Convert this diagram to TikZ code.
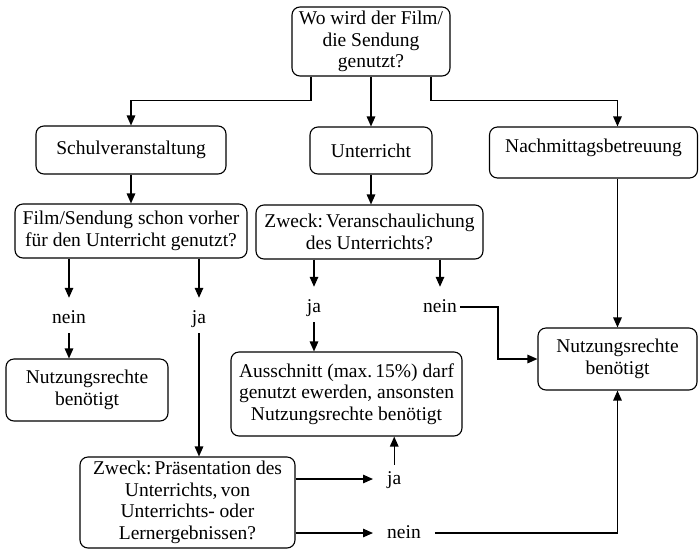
\documentclass[tikz,border=0pt]{standalone}
\usepackage{fontspec}
\setmainfont{Liberation Serif}
\usetikzlibrary{arrows.meta}

\tikzset{
	box/.style={draw, line width=1.1pt, rounded corners=8pt, align=center, inner sep=0pt},
	lbl/.style={anchor=base, inner xsep=3pt, inner ysep=0pt, text height=25pt, text depth=10pt},
	hlbl/.style={anchor=base west, inner xsep=14pt, inner ysep=0pt, text height=19pt, text depth=9pt},
	arr/.style={line width=1.4pt, -{Triangle[length=10pt,width=8.5pt]}}
}

\begin{document}
\frenchspacing
\begin{tikzpicture}[x=1pt, y=-1pt, font=\fontsize{19.5}{21.5}\selectfont]
	\useasboundingbox (0,0) rectangle (699,550);
	
	\node[box, minimum width=158pt, minimum height=69pt] (frage) at (371,41.5) {Wo wird der Film/\\die Sendung\\genutzt?};
	
	\node[box, minimum width=190pt, minimum height=48pt] (schul) at (131,150) {Schulveranstaltung};
	
	\node[box, minimum width=122pt, minimum height=47pt] (unter) at (371,150.5) {Unterricht};
	
	\node[box, minimum width=208pt, minimum height=51pt, text height=13pt, text depth=14pt] (nachm) at (593.5,152.5) {Nachmittagsbetreuung};
	
	\node[box, minimum width=232pt, minimum height=54pt] (film) at (131,231) {Film/Sendung schon vorher\\für den Unterricht genutzt?};
	
	\node[box, minimum width=227pt, minimum height=54pt] (vera) at (369.5,232) {Zweck:\,Veranschaulichung\\des Unterrichts?};
	
	\node[box, minimum width=162pt, minimum height=62pt] (nutzL) at (87,390) {Nutzungsrechte\\benötigt};
	
	\node[box, minimum width=231pt, minimum height=84pt] (aus) at (346.5,394) {Ausschnitt (max.\,15\%) darf\\genutzt ewerden, ansonsten\\Nutzungsrechte benötigt};
	
	\node[box, minimum width=159pt, minimum height=62pt] (nutzR) at (617.5,359) {Nutzungsrechte\\benötigt};
	
	\node[box, minimum width=215pt, minimum height=91pt] (praes) at (187.5,502.5) {Zweck:\,Präsentation des\\Unterrichts,\,von\\Unterrichts- oder\\Lernergebnissen?};
	
	% ja / nein
	\node[lbl] (neinL) at (69,323) {nein};
	\node[lbl] (jaL) at (199,323) {ja};
	\node[lbl] (jaM) at (314,312) {ja};
	\node[lbl] (neinM) at (440,312) {nein};
	\node[hlbl] (jaB) at (373,484) {ja};
	\node[hlbl] (neinB) at (373,538) {nein};
	
	\draw[arr] ([xshift=-60pt]frage.south) -- ++(0,24) -| (schul.north);
	\draw[arr] (frage.south) -- (frage.south |- unter.north);
	\draw[arr] ([xshift=60pt]frage.south) -- ++(0,24) -| (nutzR.north |- nachm.north);
	
	\draw[arr] (schul.south) -- (film.north);
	\draw[arr] (unter.south) -- (unter.south |- vera.north);
	
	\draw[arr] (film.south -| neinL.north) -- (neinL.north);
	\draw[arr] (neinL.south) -- (neinL.south |- nutzL.north);
	\draw[arr] (film.south -| jaL.north) -- (jaL.north);
	\draw[arr] (jaL.south) -- (jaL.south |- praes.north);
	
	\draw[arr] (vera.south -| jaM.north) -- (jaM.north);
	\draw[arr] (jaM.south) -- (jaM.south |- aus.north);
	\draw[arr] (vera.south -| neinM.north) -- (neinM.north);
	\draw[arr] ([yshift=-2.5pt]neinM.east) -- ++(38,0) |- (nutzR.west);
	
	\draw[arr] (nutzR.north |- nachm.south) -- (nutzR.north);
	
	\draw[arr] (praes.east |- jaB.west) -- (jaB.west);
	\draw[arr] (praes.east |- neinB.west) -- (neinB.west);
	\draw[arr] (jaB.north) -- (jaB.north |- aus.south);
	\draw[arr] (neinB.east) -| (nutzR.south);
	
\end{tikzpicture}
\end{document}
